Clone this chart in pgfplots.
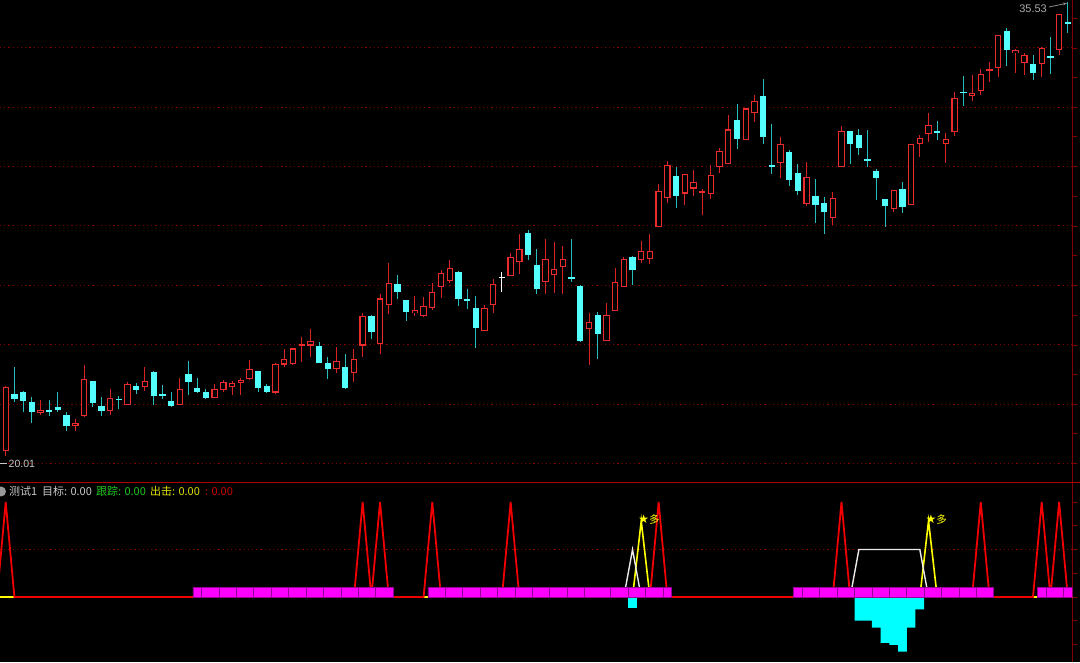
\documentclass[border=0pt]{standalone}
\usepackage{pgfplots}
\usepackage{pgfplotstable}
\pgfplotsset{compat=1.18}
\usetikzlibrary{arrows.meta}
\usepackage{fontspec}
\setmainfont{Liberation Sans}
\newfontfamily\cjk{Noto Sans CJK SC}
\newfontfamily\dejavu{DejaVu Sans}

\definecolor{upred}{RGB}{235,44,44}
\definecolor{wickred}{RGB}{215,35,35}
\definecolor{dncyan}{RGB}{84,255,255}
\definecolor{wickcyan}{RGB}{40,190,190}
\definecolor{gridred}{RGB}{135,0,0}
\definecolor{axred}{RGB}{130,0,0}
\definecolor{sepred}{RGB}{175,0,0}
\definecolor{sigred}{RGB}{240,0,0}
\definecolor{sigyellow}{RGB}{255,255,0}
\definecolor{magfill}{RGB}{255,0,255}
\definecolor{magedge}{RGB}{150,0,150}
\definecolor{barcyan}{RGB}{0,255,255}
\definecolor{lblgrey}{RGB}{200,200,200}
\definecolor{hdrgreen}{RGB}{30,200,30}
\definecolor{hdryellow}{RGB}{225,225,0}
\definecolor{hdrred}{RGB}{200,0,0}

% up candles (close > open): red hollow
\pgfplotstableread{
k o h l c
0 20.18 22.40 20.01 22.37
4 21.48 21.91 21.40 21.57
8 21.02 21.26 20.85 21.14
9 21.38 23.11 21.33 22.63
12 21.55 22.30 21.40 21.97
14 21.74 22.52 21.74 22.45
16 22.35 23.04 22.22 22.58
20 21.74 22.68 21.74 22.29
24 21.99 22.45 21.97 22.28
25 22.26 22.61 22.20 22.54
26 22.37 22.57 22.09 22.49
27 22.50 22.68 22.09 22.61
28 22.63 23.28 22.60 22.97
31 22.17 23.19 22.11 23.15
32 23.13 23.65 23.05 23.31
33 23.13 23.70 23.11 23.68
34 23.79 24.07 23.23 23.81
35 23.78 24.34 23.40 23.92
38 22.96 23.74 22.83 23.26
40 22.85 23.65 22.52 23.31
41 23.78 24.90 23.37 24.78
43 23.84 25.54 23.48 25.39
44 25.16 26.61 24.87 25.93
47 24.88 25.47 24.79 24.99
48 24.79 25.44 24.75 25.12
49 25.07 25.91 24.99 25.62
50 25.79 26.36 25.41 26.25
51 25.99 26.70 25.91 26.42
55 24.28 25.16 24.28 25.05
56 25.16 26.05 24.88 25.87
58 26.17 26.96 26.17 26.81
59 26.62 27.59 26.22 27.08
62 25.96 27.42 25.54 26.74
63 26.20 27.33 25.56 26.39
64 26.47 27.19 25.54 26.73
67 24.35 24.90 23.11 24.60
69 23.94 25.22 23.94 24.84
70 24.97 26.44 24.97 25.94
71 25.77 26.82 25.77 26.73
73 26.70 27.35 26.61 27.03
74 26.73 27.59 26.56 27.00
75 27.83 29.29 27.83 29.06
76 28.83 30.09 28.64 29.95
78 28.98 29.64 28.58 29.64
79 29.15 29.78 28.90 29.38
80 29.02 29.15 28.26 29.07
81 28.95 29.97 28.78 29.63
82 29.87 30.52 29.69 30.45
83 30.00 31.66 30.00 31.17
85 30.81 31.89 30.81 31.89
86 31.72 32.35 31.41 32.16
89 30.01 30.90 29.50 30.66
92 28.62 30.07 28.55 29.54
95 28.15 29.04 27.90 28.82
96 29.87 31.30 29.87 31.11
102 28.44 29.10 28.36 29.10
104 28.59 30.66 28.59 30.66
105 30.66 30.98 30.22 30.89
106 31.02 31.72 30.75 31.32
108 30.66 31.06 30.01 30.85
109 31.07 32.46 30.95 32.24
111 32.32 33.03 32.16 32.43
112 32.50 33.23 32.35 33.06
113 33.18 33.48 32.79 33.25
114 33.26 34.40 32.98 34.40
116 33.78 33.92 33.11 33.89
117 33.43 33.78 33.03 33.71
119 33.40 34.00 32.98 33.97
121 33.89 35.12 33.72 35.12
}\tblup

% down candles (close < open): cyan filled
\pgfplotstableread{
k o h l c
1 22.11 23.06 21.86 21.96
2 22.18 22.22 21.49 21.87
3 21.86 22.02 21.12 21.52
5 21.57 21.91 21.38 21.49
6 21.67 22.18 21.49 21.58
7 21.40 21.51 20.85 21.02
10 22.55 22.55 21.69 21.80
11 21.71 22.02 21.37 21.55
13 21.94 22.05 21.61 21.93
15 22.39 22.50 22.12 22.25
17 22.86 22.91 21.74 22.06
18 22.12 22.43 21.96 22.06
19 21.88 22.20 21.69 21.71
21 22.79 23.25 22.09 22.54
22 22.33 22.66 22.14 22.18
23 22.18 22.29 21.96 21.99
29 22.91 22.91 22.20 22.31
30 22.39 22.48 22.14 22.18
36 23.75 23.89 23.19 23.19
37 23.18 23.40 22.62 22.97
39 23.04 23.48 22.28 22.34
42 24.78 24.82 24.00 24.25
45 25.87 26.19 25.38 25.61
46 25.35 25.35 24.61 24.91
52 26.30 26.33 25.13 25.36
53 25.37 25.71 25.02 25.32
54 25.06 25.47 23.71 24.38
60 27.63 27.73 26.70 26.89
61 26.53 27.08 25.53 25.70
65 26.12 27.41 25.94 26.04
66 25.81 25.85 23.91 23.93
68 24.82 24.91 23.32 24.18
72 26.82 26.84 25.85 26.38
77 29.57 29.87 28.49 28.89
84 31.48 32.03 30.50 30.85
87 32.30 32.89 30.66 30.93
88 29.97 31.35 29.65 29.87
90 30.39 30.47 29.24 29.44
91 29.67 29.99 28.93 29.08
93 28.88 29.49 27.96 28.59
94 28.67 28.85 27.58 28.34
97 31.11 31.11 29.99 30.69
98 30.99 31.19 30.30 30.53
99 30.15 31.15 29.90 30.10
100 29.76 29.81 28.76 29.50
101 28.78 28.78 27.85 28.55
103 29.14 29.36 28.30 28.53
107 31.11 31.46 30.81 31.06
110 32.46 33.00 31.97 32.42
115 34.53 34.63 33.35 33.89
118 33.40 33.72 32.86 33.11
120 33.68 34.32 33.07 33.64
122 34.84 35.53 34.46 34.77
}\tbldn

% doji (open = close): white
\pgfplotstableread{
k o h l c
57 26.11 26.28 25.62 26.11
}\tbldj

\pgfplotsset{
  candle/.style n args={2}{draw=none, mark=none, forget plot,
    error bars/.cd, y dir=both, y explicit, error mark=none,
    error bar style={draw=#1, line width=#2}},
}

\begin{document}
\begin{tikzpicture}
\fill[black] (0,0) rectangle (1080pt,662pt);

% ---------------- price panel ----------------
\begin{axis}[
  at={(0pt,179pt)}, anchor=south west,
  scale only axis, width=1072.7pt, height=483pt,
  xmin=-0.655, xmax=122.56, ymin=19.076, ymax=35.60,
  axis x line=none, axis y line*=right,
  y axis line style={axred, line width=1pt, -},
  ytick={19.74,21.77,23.80,25.84,27.87,29.90,31.93,33.96},
  minor ytick={20.76,22.79,24.82,26.86,28.89,30.92,32.95,34.98},
  yticklabels={},
  tick align=outside, major tick length=4pt, minor tick length=4pt,
  tick style={axred, line width=0.8pt},
  ymajorgrids,
  major grid style={gridred, line width=0.9pt, dash pattern=on 1.2pt off 3pt},
]
% wicks
\addplot[candle={wickred}{1pt}] table[x=k, y expr={(\thisrow{h}+\thisrow{l})/2}, y error expr={(\thisrow{h}-\thisrow{l})/2}] {\tblup};
\addplot[candle={wickcyan}{1pt}] table[x=k, y expr={(\thisrow{h}+\thisrow{l})/2}, y error expr={(\thisrow{h}-\thisrow{l})/2}] {\tbldn};
\addplot[candle={white}{1pt}] table[x=k, y expr={(\thisrow{h}+\thisrow{l})/2}, y error expr={(\thisrow{h}-\thisrow{l})/2}] {\tbldj};
% bodies
\addplot[candle={upred}{6.4pt}] table[x=k, y expr={(\thisrow{o}+\thisrow{c})/2}, y error expr={max((\thisrow{c}-\thisrow{o})/2,0.018)}] {\tblup};
\addplot[candle={black}{4.2pt}] table[x=k, y expr={(\thisrow{o}+\thisrow{c})/2}, y error expr={max((\thisrow{c}-\thisrow{o})/2-0.037,0)}] {\tblup};
\addplot[candle={dncyan}{6.4pt}] table[x=k, y expr={(\thisrow{o}+\thisrow{c})/2}, y error expr={max((\thisrow{o}-\thisrow{c})/2,0.018)}] {\tbldn};
\addplot[candle={white}{6.4pt}] table[x=k, y expr={(\thisrow{o}+\thisrow{c})/2}, y error expr={0.018}] {\tbldj};
\end{axis}

% ---------------- indicator panel ----------------
\begin{axis}[
  at={(0pt,0pt)}, anchor=south west,
  scale only axis, width=1072.7pt, height=179pt,
  xmin=-0.655, xmax=122.56, ymin=-68.4, ymax=120,
  axis x line=none, axis y line*=right,
  y axis line style={axred, line width=1pt, -},
  ytick={-50,-25,0,25,50,75,100}, yticklabels={},
  tick align=outside, major tick length=4pt,
  tick style={axred, line width=0.8pt},
]
\addplot[gridred, line width=0.9pt, dash pattern=on 1.2pt off 3pt] coordinates {(-0.655,50) (122.56,50)};
% cyan bars
\addplot[ybar interval, fill=barcyan, draw=none] coordinates {(71.5,-11.3) (72.5,-11.3)};
\addplot[ybar interval, fill=barcyan, draw=none] coordinates {(97.5,-24.9) (98.5,-24.9) (99.5,-32.3) (100.5,-48.4) (101.5,-50.5) (102.5,-57.6) (103.5,-32.3) (104.5,-12.9) (105.5,-12.9)};
% yellow line
\addplot[sigyellow, line width=1.6pt] coordinates {(-1,0) (72,0) (73,80) (74,0) (105,0) (106,80) (107,0) (122.6,0)};
% white line
\addplot[white!92!black, line width=1.4pt] coordinates {(71,0) (72,50) (73,0)};
\addplot[white!92!black, line width=1.4pt] coordinates {(97,0) (98,50) (105,50) (106,0)};
% red spikes
\addplot[sigred, line width=1.8pt] coordinates {(-1,0) (0,100) (1,0) (40,0) (41,100) (42,0) (43,100) (44,0) (48,0) (49,100) (50,0) (57,0) (58,100) (59,0) (74,0) (75,100) (76,0) (95,0) (96,100) (97,0) (111,0) (112,100) (113,0) (118,0) (119,100) (120,0) (121,100) (122,0) (122.6,0)};
% magenta blocks
\addplot[ybar interval, fill=magfill, draw=magedge, line width=0.7pt] coordinates {(21.5,10) (22.5,10) (24.5,10) (26.5,10) (28.5,10) (30.5,10) (32.5,10) (34.5,10) (36.5,10) (38.5,10) (40.5,10) (42.5,10) (44.5,10)};
\addplot[ybar interval, fill=magfill, draw=magedge, line width=0.7pt] coordinates {(48.5,10) (50.5,10) (52.5,10) (54.5,10) (56.5,10) (58.5,10) (60.5,10) (62.5,10) (64.5,10) (66.5,10) (69.5,10) (71.5,10) (73.5,10) (75.5,10) (76.5,10)};
\addplot[ybar interval, fill=magfill, draw=magedge, line width=0.7pt] coordinates {(90.5,10) (91.5,10) (93.5,10) (95.5,10) (97.5,10) (99.5,10) (101.5,10) (103.5,10) (105.5,10) (107.5,10) (109.5,10) (111.5,10) (113.5,10)};
\addplot[ybar interval, fill=magfill, draw=magedge, line width=0.7pt] coordinates {(118.5,10) (119.5,10) (121.5,10) (122.5,10)};
% signal labels
\node[anchor=west, inner sep=0pt, xshift=-3pt, yshift=1pt, text=sigyellow, font=\fontsize{12pt}{14pt}\selectfont] at (axis cs:73,80) {\dejavu ★\cjk\fontsize{10.5pt}{12pt}\selectfont 多};
\node[anchor=west, inner sep=0pt, xshift=-3pt, yshift=1pt, text=sigyellow, font=\fontsize{12pt}{14pt}\selectfont] at (axis cs:106,80) {\dejavu ★\cjk\fontsize{10.5pt}{12pt}\selectfont 多};
\end{axis}

% separator
\draw[sepred, line width=1pt] (0,179pt) -- (1080pt,179pt);

% min / max labels
\draw[lblgrey, line width=0.8pt] (0,198.3pt) -- (7pt,198.3pt);
\node[anchor=west, inner sep=0pt, text=lblgrey, font=\fontsize{10.5pt}{12pt}\selectfont] at (8.5pt,198.3pt) {20.01};
\node[anchor=east, inner sep=0pt, text=lblgrey!85!black, font=\fontsize{11pt}{13pt}\selectfont] at (1047pt,653.7pt) {35.53};
\draw[lblgrey!70!black, line width=0.8pt, -{Stealth[length=4pt,width=3pt]}] (1049pt,655pt) -- (1067pt,658.8pt);

% header
\fill[gray!80] (1pt,170.5pt) circle (5pt);
\begin{scope}[every node/.style={anchor=base west, inner sep=0pt, font=\cjk\fontsize{11pt}{13pt}\selectfont}]
\node[text=lblgrey] at (9pt,166pt) {测试1};
\node[text=lblgrey] at (42pt,166pt) {目标: 0.00};
\node[text=hdrgreen] at (96pt,166pt) {跟踪: 0.00};
\node[text=hdryellow] at (150pt,166pt) {出击: 0.00};
\node[text=hdrred] at (205pt,166pt) {: 0.00};
\end{scope}

\pgfresetboundingbox
\useasboundingbox (0,0) rectangle (1080pt,662pt);
\end{tikzpicture}
\end{document}
